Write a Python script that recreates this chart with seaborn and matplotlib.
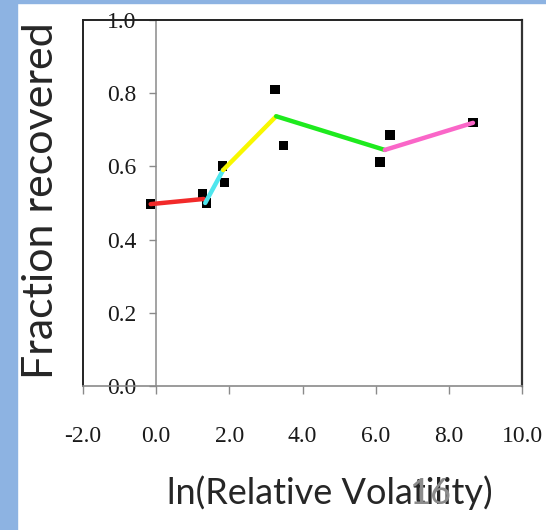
import matplotlib
matplotlib.use("Agg")
import matplotlib.pyplot as plt
import seaborn as sns
import pandas as pd
from matplotlib.patches import Rectangle
from matplotlib.lines import Line2D

# ---- data ----
point_x = [-0.15, 1.26, 1.37, 1.82, 1.86, 3.25, 3.47, 6.12, 6.39, 8.66]
point_y = [0.497, 0.527, 0.500, 0.601, 0.557, 0.811, 0.658, 0.612, 0.686, 0.719]

seg_names = ["red", "cyan", "yellow", "green", "pink"]
seg_x0 = [-0.15, 1.34, 1.83, 3.28, 6.25]
seg_x1 = [1.30, 1.83, 3.28, 6.25, 8.66]
seg_y0 = [0.497, 0.500, 0.590, 0.737, 0.645]
seg_y1 = [0.511, 0.590, 0.737, 0.645, 0.719]
seg_colors = ["#f22a2a", "#4fe6ee", "#f8f800", "#1eea1e", "#fa66c8"]

x_ticks = [-2, 0, 2, 4, 6, 8, 10]
x_tick_labels = ["-2.0", "0.0", "2.0", "4.0", "6.0", "8.0", "10.0"]
y_ticks = [0.0, 0.2, 0.4, 0.6, 0.8, 1.0]
y_tick_labels = ["0.0", "0.2", "0.4", "0.6", "0.8", "1.0"]

x_label = "ln(Relative Volatility)"
y_label = "Fraction recovered"
slide_number = "16"

# ---- build tables ----
pts = pd.DataFrame({"x": point_x, "y": point_y})
rows = []
for n, x0, x1, y0, y1 in zip(seg_names, seg_x0, seg_x1, seg_y0, seg_y1):
    rows.append({"seg": n, "x": x0, "y": y0})
    rows.append({"seg": n, "x": x1, "y": y1})
segs = pd.DataFrame(rows)

sns.set_style("white")
plt.rcParams["axes.unicode_minus"] = False

W, H = 546, 530
fig = plt.figure(figsize=(W / 100, H / 100), dpi=100)
fig.patch.set_facecolor("white")
# slide background strips
fig.add_artist(Rectangle((0, 0), 17 / W, 1, transform=fig.transFigure,
                         color="#8DB3E2", zorder=-5))
fig.add_artist(Rectangle((0, 1 - 3 / H), 1, 3 / H, transform=fig.transFigure,
                         color="#8DB3E2", zorder=-5))

ax = fig.add_axes([83 / W, 144 / H, 439 / W, 366 / H])

sns.scatterplot(data=pts, x="x", y="y", marker="s", s=44, color="black",
                edgecolor="none", ax=ax, zorder=3, legend=False)
sns.lineplot(data=segs, x="x", y="y", hue="seg", hue_order=seg_names,
             palette=dict(zip(seg_names, seg_colors)), estimator=None,
             sort=False, units="seg", linewidth=3.2, ax=ax, legend=False,
             zorder=4)

ax.spines["left"].set_position(("data", 0))
ax.spines["left"].set_color("#8a8a8a")
ax.spines["left"].set_linewidth(1.1)
ax.spines["bottom"].set_color("#8a8a8a")
ax.spines["bottom"].set_linewidth(1.2)
ax.spines["top"].set_color("#222222")
ax.spines["top"].set_linewidth(1.4)
ax.spines["right"].set_color("#333333")
ax.spines["right"].set_linewidth(1.6)
ax.add_line(Line2D([0, 0], [0, 1], transform=ax.transAxes, color="#222222",
                   linewidth=1.4, clip_on=False, zorder=2))

ax.set_xlim(-2, 10)
ax.set_ylim(0, 1)
ax.set_xticks(x_ticks)
ax.set_xticklabels(x_tick_labels)
ax.set_yticks(y_ticks)
ax.set_yticklabels(y_tick_labels)

ax.tick_params(axis="y", direction="out", length=5, width=1, color="#8a8a8a",
               pad=9, left=True, labelsize=17, labelcolor="#1a1a1a",
               labelfontfamily="Liberation Serif")
ax.tick_params(axis="x", direction="out", length=6, width=1, color="#8a8a8a",
               pad=23, bottom=True, labelsize=17, labelcolor="#1a1a1a",
               labelfontfamily="Liberation Serif")

ax.set_xlabel(x_label, fontfamily="Lato", fontsize=26, va="center")
ax.set_ylabel(y_label, fontfamily="Lato", fontsize=31, va="center")
ax.xaxis.set_label_coords((330 - 83) / 439, (386 - 493) / 366)
ax.yaxis.set_label_coords((41 - 83) / 439, (386 - 201) / 366)

fig.text(430 / W, 1 - 493 / H, slide_number, fontfamily="Lato", fontsize=26,
         color="#8c8c8c", ha="center", va="center")

fig.savefig("out.png", dpi=100)
